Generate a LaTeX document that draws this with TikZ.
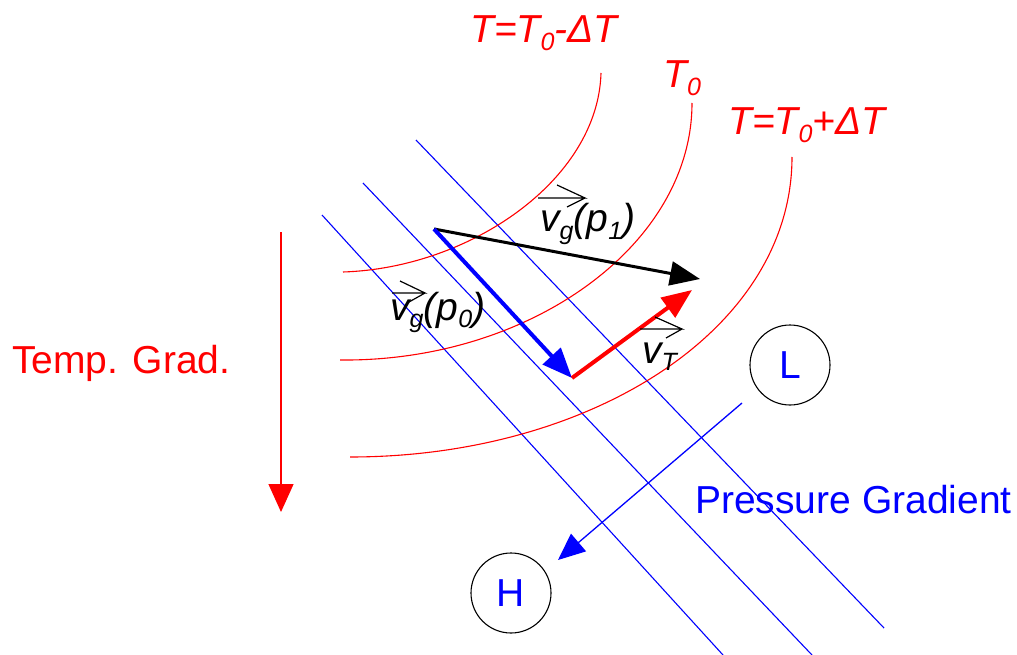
\documentclass[tikz,border=0pt]{standalone}
\usepackage{fontspec}
\setmainfont{Liberation Sans}
\usetikzlibrary{arrows.meta}
\definecolor{pred}{RGB}{255,0,0}
\definecolor{pblue}{RGB}{0,0,255}
\newcommand\lsub[1]{\raisebox{-0.2em}{\fontsize{25}{25}\selectfont #1}}
\tikzset{
  lbl/.style={inner sep=0pt, anchor=base west, font=\fontsize{39}{44}\selectfont},
  isobar/.style={draw=pblue, line width=1.1pt},
  isotherm/.style={draw=pred, line width=1.1pt},
  bighead/.style={-{Triangle[length=30pt,width=24pt]}},
  vecarrow/.style={draw=black, line width=1.2pt, line join=miter},
  center/.style={draw=black, line width=1.1pt, circle, minimum size=80pt, inner sep=0pt, text=pblue, font=\fontsize{39}{44}\selectfont}
}
\begin{document}
\begin{tikzpicture}[x=1pt,y=-1pt]
\useasboundingbox (0,0) rectangle (1017,655);
\fill[white] (0,0) rectangle (1017,655);
% isobars
\draw[isobar] (322,215) -- (723,655);
\draw[isobar] (363,183) -- (812,655);
\draw[isobar] (416,140) -- (884,628);
% isotherms
\draw[isotherm] (601,73) .. controls (598,180) and (470,268) .. (343,272);
\draw[isotherm] (692,103) .. controls (692,245) and (530,362) .. (340,360);
\draw[isotherm] (792,157) .. controls (792,330) and (590,457) .. (350,457);
% labels of isotherms
\node[lbl, text=pred] (tm) at (470,43) {\itshape T=T\lsub{0}-ΔT};
\node[lbl, text=pred] (t0) at (663,88) {\itshape T\lsub{0}};
\node[lbl, text=pred] (tp) at (728,135) {\itshape T=T\lsub{0}+ΔT};
% temperature gradient
\coordinate (tgS) at (281,232);
\coordinate (tgE) at (281,512);
\draw[pred, line width=1.3pt, -{Triangle[length=28pt,width=25pt]}] (tgS) -- (tgE);
\node[lbl, text=pred] (tg) at (12,373) {Temp. Grad.};
% L and H
\node[center] (L) at (790,365) {L};
\node[center] (H) at (511,593) {H};
% pressure gradient
\coordinate (pgS) at (742,403);
\coordinate (pgE) at (558,560);
\draw[pblue, line width=1.3pt, -{Triangle[length=27pt,width=23pt]}] (pgS) -- (pgE);
\node[lbl, text=pblue] (pg) at (695,513) {Pressure Gradient};
% vectors
\coordinate (O) at (434,229);
\coordinate (A) at (700,279);
\coordinate (B) at (572,378);
\coordinate (C) at (692,290);
\draw[black, line width=3pt, bighead] (O) -- (A);
\draw[pblue, line width=4pt, bighead] (O) -- (B);
\draw[pred, line width=4pt, bighead] (B) -- (C);
% vector labels
\node[lbl] (vg1) at (540,232) {\itshape v\lsub{g}(p\lsub{1})};
\node[lbl] (vg0) at (390,320) {\itshape v\lsub{g}(p\lsub{0})};
\node[lbl] (vt) at (642,363) {\itshape v\lsub{T}};
% over-arrows
\coordinate (a1) at (585,198);
\coordinate (a0) at (425,293);
\coordinate (aT) at (682,329);
\draw[vecarrow] (a1) ++(-47,0) -- (a1) -- ++(-28,-13) (a1) -- ++(-18,9);
\draw[vecarrow] (a0) ++(-33,0) -- (a0) -- ++(-25,-12) (a0) -- ++(-16,9);
\draw[vecarrow] (aT) ++(-42,0) -- (aT) -- ++(-27,-12) (aT) -- ++(-16,9);
\end{tikzpicture}
\end{document}
